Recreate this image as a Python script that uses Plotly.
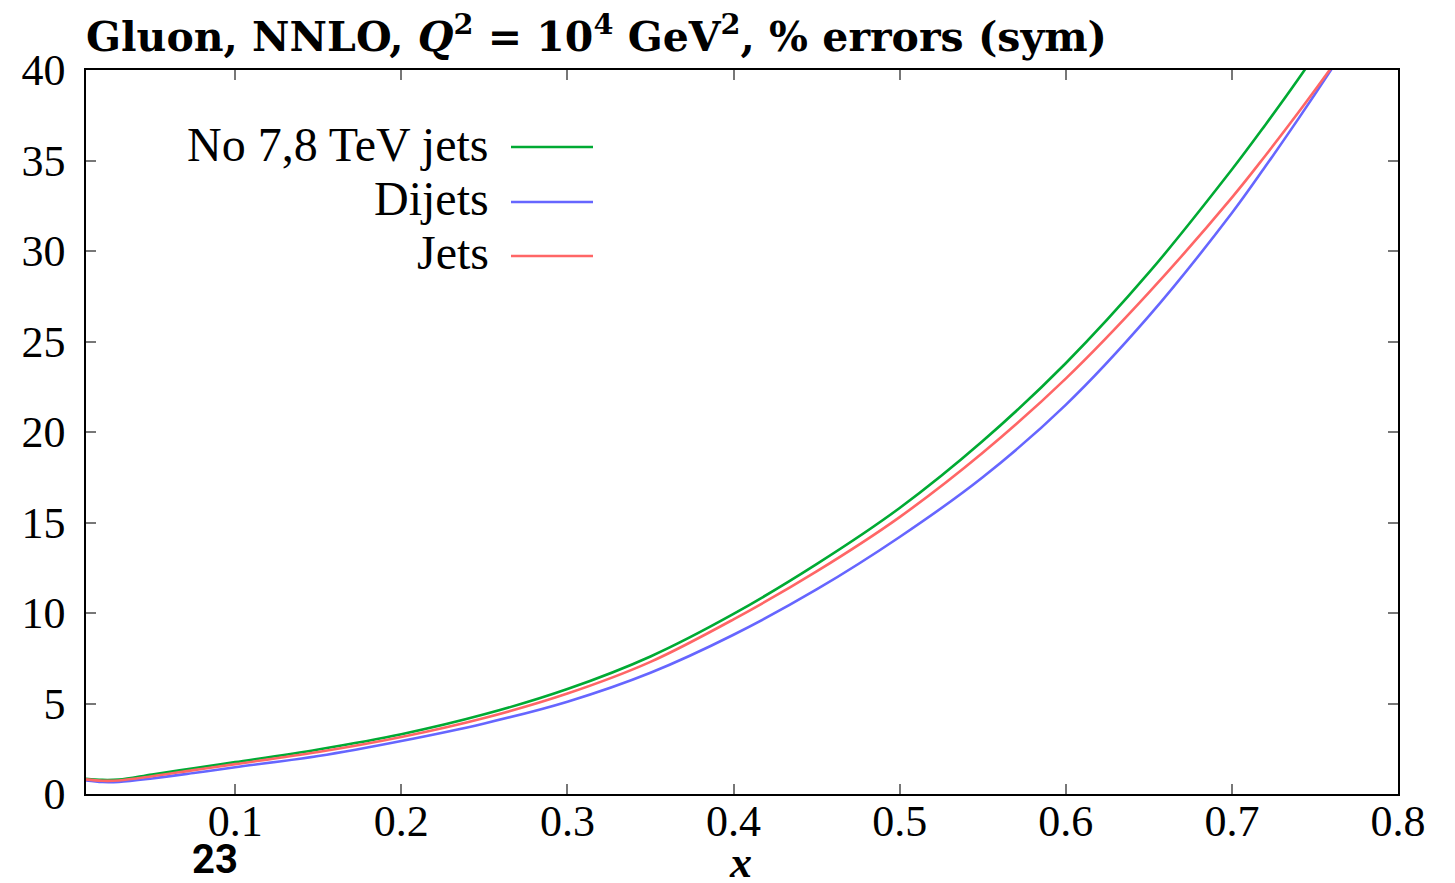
import plotly.graph_objects as go

x_vals = [0.0102, 0.02, 0.03, 0.05, 0.075, 0.1, 0.15, 0.2, 0.25, 0.3, 0.35, 0.4, 0.45,
          0.5, 0.55, 0.6, 0.65, 0.7, 0.72, 0.74, 0.76, 0.78]
no_78_jets = [0.84, 0.78, 0.80, 1.08, 1.42, 1.76, 2.46, 3.30, 4.40, 5.80, 7.60, 9.95, 12.7,
              15.8, 19.5, 23.8, 28.8, 34.5, 36.95, 39.5, 42.2, 45.0]
dijets = [0.75, 0.66, 0.67, 0.86, 1.16, 1.48, 2.10, 2.93, 3.90, 5.10, 6.70, 8.80, 11.3,
          14.2, 17.5, 21.5, 26.4, 32.1, 34.65, 37.3, 40.05, 42.9]
jets = [0.81, 0.73, 0.75, 0.98, 1.32, 1.65, 2.32, 3.15, 4.20, 5.55, 7.30, 9.65, 12.3,
        15.3, 18.85, 22.95, 27.7, 32.95, 35.25, 37.65, 40.15, 42.8]

series_names = ["No 7,8 TeV jets", "Dijets", "Jets"]
series_data = [no_78_jets, dijets, jets]
series_colors = ["#00aa33", "#6666ff", "#ff6666"]

x_ticks = [0.1, 0.2, 0.3, 0.4, 0.5, 0.6, 0.7, 0.8]
y_ticks = [0, 5, 10, 15, 20, 25, 30, 35, 40]

SERIF = "Liberation Serif"
L, T, W, H = 86, 70, 1312, 724


def px(xp):
    return (xp - L) / W


def py(yp):
    return 1 - (yp - T) / H


fig = go.Figure()
for name, ys, col in zip(series_names, series_data, series_colors):
    fig.add_trace(go.Scatter(x=x_vals, y=ys, mode="lines", name=name,
                             line=dict(color=col, width=2.6, shape="spline", smoothing=1.0),
                             showlegend=False))

# legend: text right-aligned, line sample to the right
leg_y = [144, 199, 253]
for name, col, yp in zip(series_names, series_colors, leg_y):
    fig.add_annotation(x=px(491), y=py(yp), xref="paper", yref="paper",
                       text=name, showarrow=False, xanchor="right", yanchor="middle",
                       font=dict(family=SERIF, size=48, color="black"))
    fig.add_shape(type="line", xref="paper", yref="paper",
                  x0=px(511), x1=px(593), y0=py(yp + 3), y1=py(yp + 3),
                  line=dict(color=col, width=2.6))

fig.add_annotation(x=px(215), y=py(859), xref="paper", yref="paper", text="<b>23</b>",
                   showarrow=False, xanchor="center", yanchor="middle",
                   font=dict(family="Roboto", size=40, color="black"))
fig.add_annotation(x=px(740), y=py(862), xref="paper", yref="paper", text="<b><i>x</i></b>",
                   showarrow=False, xanchor="center", yanchor="middle",
                   font=dict(family=SERIF, size=44, color="black"))

fig.update_layout(
    width=1455, height=883,
    margin=dict(l=L, r=1455 - L - W, t=T, b=883 - T - H),
    plot_bgcolor="white", paper_bgcolor="white",
    title=dict(text="<b>Gluon, NNLO, <i>Q</i><sup>2</sup> = 10<sup>4</sup> GeV<sup>2</sup>, % errors (sym)</b>",
               x=86 / 1455, xanchor="left", y=1 - 37 / 883, yanchor="middle",
               font=dict(family="DejaVu Serif", size=41, color="black")),
    font=dict(family=SERIF, color="black"),
)
fig.update_xaxes(range=[0.0102, 0.8], tickvals=x_ticks, ticktext=[str(v) for v in x_ticks],
                 ticks="inside", ticklen=10, tickcolor="#777777", tickwidth=1.5,
                 showline=True, linecolor="black", linewidth=1.5, mirror="ticks",
                 showgrid=False, zeroline=False, automargin=False, ticklabelstandoff=-13,
                 tickfont=dict(family=SERIF, size=44, color="black"))
fig.update_yaxes(range=[0, 40], tickvals=y_ticks, ticktext=[str(v) for v in y_ticks],
                 ticks="inside", ticklen=10, tickcolor="#777777", tickwidth=1.5,
                 showline=True, linecolor="black", linewidth=1.5, mirror="ticks",
                 showgrid=False, zeroline=False, automargin=False, ticklabelstandoff=10,
                 tickfont=dict(family=SERIF, size=44, color="black"))

fig.write_html("out.html")
